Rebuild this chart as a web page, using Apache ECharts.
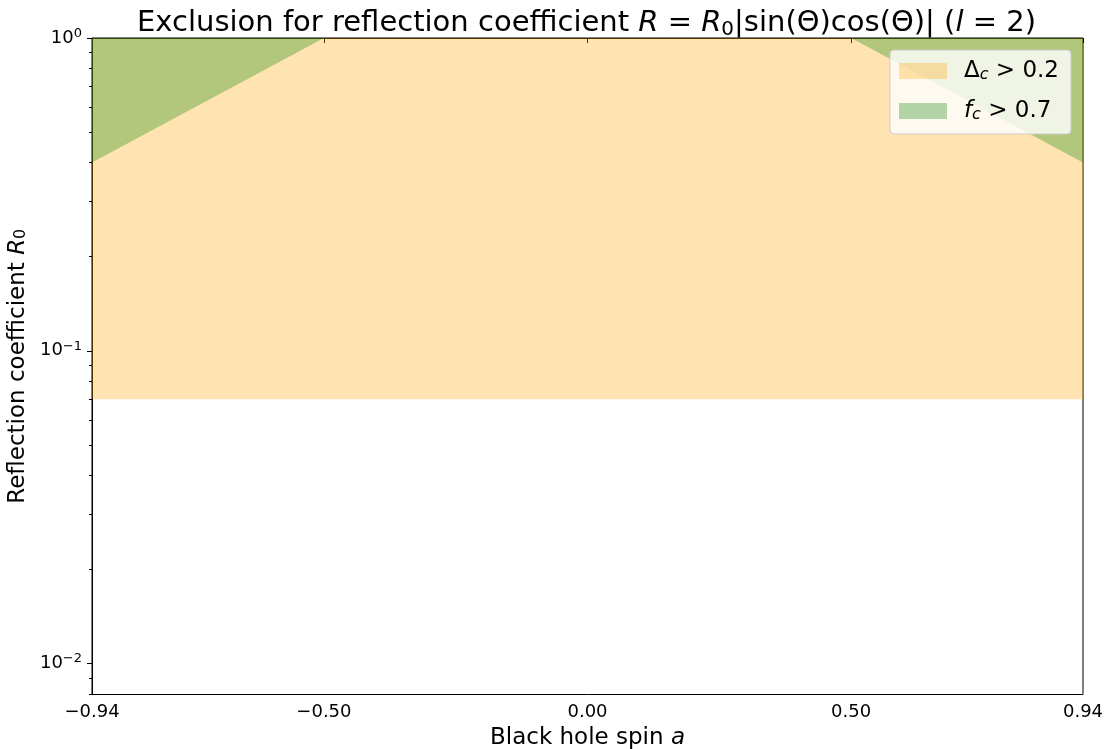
<!DOCTYPE html>
<html>
<head>
<meta charset="utf-8">
<script src="https://cdn.jsdelivr.net/npm/echarts@6/dist/echarts.min.js"></script>
<style>html,body{margin:0;padding:0;background:#fff;}#c{width:1110px;height:749px;}</style>
</head>
<body>
<div id="c"></div>
<script>
// ---- data ----
const spin = [-0.94, -0.50, 0.50, 0.94];          // black hole spin a
const deltaCLower = [0.070, 0.070, 0.070, 0.070]; // lower edge of Δc > 0.2 region
const deltaCUpper = [1.0, 1.0, 1.0, 1.0];
const fcLower = [0.40, 1.0, 1.0, 0.40];           // lower edge of fc > 0.7 region
const fcUpper = [1.0, 1.0, 1.0, 1.0];
const xTickValues = [-0.94, -0.50, 0.00, 0.50, 0.94];
const yMajorExp = [-2, -1, 0];
const yMin = 0.00796, yMax = 1;

const FONT = 'DejaVu Sans';
const orange = 'rgba(255,165,0,0.3)';
const green = 'rgba(0,128,0,0.3)';

const minorVals = [];
[-3, -2, -1].forEach(d => { for (let k = 2; k <= 9; k++) { const v = k * Math.pow(10, d); if (v > yMin && v < yMax) minorVals.push(Math.log10(v)); } });

function band(xs, lo, hi, color) {
  return {
    type: 'custom', xAxisIndex: 0, yAxisIndex: 0, clip: true,
    data: [0],
    renderItem: function (params, api) {
      const pts = [];
      for (let i = 0; i < xs.length; i++) pts.push(api.coord([xs[i], hi[i]]));
      for (let i = xs.length - 1; i >= 0; i--) pts.push(api.coord([xs[i], lo[i]]));
      return { type: 'polygon', shape: { points: pts }, style: { fill: color, stroke: null } };
    }
  };
}

const T = { fontFamily: FONT, color: '#000', fontWeight: 'normal' };
function st(o) { return Object.assign({}, T, o); }

const chart = echarts.init(document.getElementById('c'), null, { renderer: 'canvas' });
const lmin = Math.log10(yMin), lmax = Math.log10(yMax);
chart.setOption({
  animation: false,
  backgroundColor: '#fff',
  title: {
    left: 581.5, textAlign: 'center', top: 1,
    text: '{n|Exclusion for reflection coefficient }{i|R}{n| = }{i|R}{s|0}{n||sin(Θ)cos(Θ)| (}{i|l}{n| = 2)}',
    textStyle: st({
      fontSize: 29,
      rich: {
        n: st({ fontSize: 29, lineHeight: 34 }),
        i: st({ fontSize: 29, fontStyle: 'italic', lineHeight: 34 }),
        s: st({ fontSize: 20, lineHeight: 22, verticalAlign: 'bottom' })
      }
    })
  },
  grid: { left: 92, right: 27, top: 38, bottom: 54.5, outerBoundsMode: 'none', containLabel: false,
    show: true, borderColor: '#000', borderWidth: 1, backgroundColor: 'transparent' },
  legend: {
    orient: 'vertical', right: 39, top: 50,
    padding: [9, 12, 11, 9], itemGap: 16, itemWidth: 48, itemHeight: 16,
    backgroundColor: 'rgba(255,255,255,0.8)', borderColor: '#cccccc', borderWidth: 1, borderRadius: 4,
    data: [
      { name: 'dc', icon: 'rect', itemStyle: { color: orange } },
      { name: 'fc', icon: 'rect', itemStyle: { color: green } }
    ],
    formatter: function (n) {
      return n === 'dc' ? '{n|Δ}{s|c}{n| > 0.2}' : '{i|f}{s|c}{n| > 0.7}';
    },
    textStyle: st({
      padding: [0, 0, 0, 12], lineHeight: 20,
      rich: {
        n: st({ fontSize: 23, lineHeight: 24 }),
        i: st({ fontSize: 23, fontStyle: 'italic', lineHeight: 24 }),
        s: st({ fontSize: 16, fontStyle: 'italic', lineHeight: 14, verticalAlign: 'bottom' })
      }
    })
  },
  xAxis: [{
    type: 'value', min: -0.94, max: 0.94,
    name: 'Black hole spin {i|a}', nameLocation: 'middle', nameGap: 29,
    nameTextStyle: st({ fontSize: 23, rich: { i: st({ fontSize: 23, fontStyle: 'italic' }) } }),
    axisLine: { show: true, lineStyle: { color: '#000', width: 1 } },
    axisTick: { show: true, length: 5, lineStyle: { color: '#000' }, customValues: xTickValues },
    axisLabel: st({ show: true, margin: 9, fontSize: 18, customValues: xTickValues,
      formatter: v => (v < 0 ? '−' : '') + Math.abs(v).toFixed(2) }),
    splitLine: { show: false }
  }],
  yAxis: [{
    type: 'log', logBase: 10, min: yMin, max: yMax, show: false
  }, {
    type: 'value', min: lmin, max: lmax, position: 'left',
    name: 'Reflection coefficient {i|R}{s|0}', nameLocation: 'middle', nameGap: 51,
    nameTextStyle: st({ fontSize: 23,
      rich: { i: st({ fontSize: 23, fontStyle: 'italic' }),
              s: st({ fontSize: 16, verticalAlign: 'bottom', lineHeight: 16 }) } }),
    axisLine: { show: true, lineStyle: { color: '#000', width: 1 } },
    axisTick: { show: true, length: 5, lineStyle: { color: '#000' }, customValues: yMajorExp },
    axisLabel: { show: true, margin: 10, customValues: yMajorExp,
      formatter: v => '{b|10}{p|' + (v < 0 ? '−' + Math.abs(v) : String(v)) + '}',
      rich: { b: st({ fontSize: 18, lineHeight: 22 }),
              p: st({ fontSize: 13, verticalAlign: 'top', lineHeight: 16 }) } },
    splitLine: { show: false }
  }, {
    type: 'value', min: lmin, max: lmax, position: 'left',
    axisLine: { show: false },
    axisTick: { show: true, length: 3, lineStyle: { color: '#000' }, customValues: minorVals },
    axisLabel: { show: false },
    splitLine: { show: false }
  }],
  series: [
    Object.assign(band(spin, deltaCLower, deltaCUpper, orange), { name: 'dc', itemStyle: { color: orange } }),
    Object.assign(band(spin, fcLower, fcUpper, green), { name: 'fc', itemStyle: { color: green } })
  ]
});
</script>
</body>
</html>
